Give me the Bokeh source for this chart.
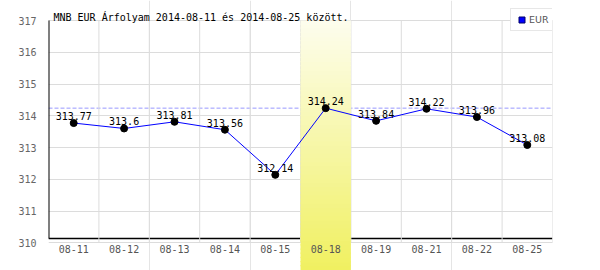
from bokeh.plotting import figure
from bokeh.models import Range1d, FixedTicker, Span, Label, Legend, LegendItem, ColumnDataSource
from bokeh.core.properties import value
from bokeh.embed import file_html
from bokeh.resources import INLINE

# ---- data ----
dates = ["08-11", "08-12", "08-13", "08-14", "08-15", "08-18", "08-19", "08-21", "08-22", "08-25"]
rates = [313.77, 313.6, 313.81, 313.56, 312.14, 314.24, 313.84, 314.22, 313.96, 313.08]
rate_labels = ["313.77", "313.6", "313.81", "313.56", "312.14", "314.24", "313.84", "314.22", "313.96", "313.08"]
y_ticks = [310, 311, 312, 313, 314, 315, 316, 317]
highlight_date = "08-18"
series_name = "EUR"
title_text = "MNB EUR Árfolyam 2014-08-11 és 2014-08-25 között."

# ---- layout constants ----
W, H = 600, 270
LEFT, RIGHT = 48, 48
GRID_TOP, GRID_BOTTOM = 20.0, 242.3
y_lo, y_hi = y_ticks[0], y_ticks[-1]
PX_PER_UNIT = (GRID_BOTTOM - GRID_TOP) / (y_hi - y_lo)
y_start = y_lo - (H - GRID_BOTTOM) / PX_PER_UNIT
y_end = y_hi + GRID_TOP / PX_PER_UNIT
axis_y = y_lo + 4.2 / PX_PER_UNIT

MONO = value("DejaVu Sans Mono")
n = len(dates)
xs = [i + 0.5 for i in range(n)]

p = figure(width=W, height=H, output_backend="svg", toolbar_location=None,
           x_range=Range1d(0, n), y_range=Range1d(y_start, y_end),
           x_axis_location=None, min_border_left=LEFT, min_border_right=RIGHT,
           min_border_top=0, min_border_bottom=0)
p.outline_line_color = None
p.background_fill_color = "white"
p.border_fill_color = "white"

# y axis
p.yaxis.ticker = FixedTicker(ticks=y_ticks)
p.yaxis.axis_line_color = None
p.yaxis.major_tick_line_color = None
p.yaxis.minor_tick_line_color = None
p.yaxis.major_label_standoff = 6
p.yaxis.major_label_text_font = "DejaVu Sans Mono"
p.yaxis.major_label_text_font_size = "10px"
p.yaxis.major_label_text_color = "#666666"
p.ygrid.ticker = FixedTicker(ticks=y_ticks)
p.ygrid.grid_line_color = "#dcdcdc"

# vertical grid lines at band boundaries
bounds = list(range(1, n + 1))
p.segment(x0=bounds, y0=[y_lo] * n, x1=bounds, y1=[y_hi] * n, line_color="#dcdcdc", line_width=1)

# max dashed line, axis lines (under the highlight band)
p.add_layout(Span(location=max(rates), dimension="width", line_color="#9999ff",
                  line_dash="4 2", line_width=1, level="underlay"))
p.add_layout(Span(location=axis_y, dimension="width", line_color="black",
                  line_width=1.5, level="underlay"))
p.segment(x0=[0], y0=[axis_y], x1=[0], y1=[y_hi], line_color="black", line_width=2)

# highlight band with vertical gradient
hi = dates.index(highlight_date)
N = 60
top_c = (253, 253, 238)
bot_c = (240, 240, 96)
lefts, rights, bots, tops, cols = [], [], [], [], []
step = (y_hi - y_start) / N
for k in range(N):
    t = (k + 0.5) / N
    c = tuple(int(round(bot_c[j] + (top_c[j] - bot_c[j]) * t)) for j in range(3))
    lefts.append(hi); rights.append(hi + 1)
    bots.append(y_start + k * step)
    tops.append(min(y_hi, y_start + (k + 1) * step + step * 0.3))
    cols.append("#%02x%02x%02x" % c)
p.quad(left=lefts, right=rights, bottom=bots, top=tops, fill_color=cols, line_color=None)

# data
src = ColumnDataSource(dict(x=xs, y=rates, lab=rate_labels))
# legend key renderer (square key, invisible on the plot itself)
key_r = p.scatter("x", "y", source=src, marker="square", size=0,
                  fill_color="blue", line_color="#000066")
line_r = p.line("x", "y", source=src, line_color="blue", line_width=1)
p.scatter("x", "y", source=src, size=7, fill_color="black", line_color="black")
p.text("x", "y", text="lab", source=src, text_font=MONO, text_font_size="10px",
       text_color="black", text_align="center", text_baseline="alphabetic", y_offset=-7)

# x tick labels
p.text(x=xs, y=[y_lo] * n, text=dates, text_font=MONO, text_font_size="10px",
       text_color="#555555", text_align="center", text_baseline="middle", y_offset=6)

# legend
legend = Legend(items=[LegendItem(label=series_name, renderers=[key_r])],
                location=(462, 239), orientation="vertical",
                glyph_width=15, glyph_height=15, label_height=15, label_width=20,
                label_standoff=0, padding=3, margin=0, spacing=0,
                label_text_font="DejaVu Sans", label_text_font_size="9.5px",
                label_text_color="#555555", label_text_baseline="middle",
                border_line_color="#d0d0d0", background_fill_color="white",
                background_fill_alpha=1)
p.add_layout(legend, "center")

# title
p.add_layout(Label(x=0, y=y_hi, x_offset=5, y_offset=3, text=title_text,
                   text_font="DejaVu Sans Mono", text_font_size="10px",
                   text_color="black", text_baseline="alphabetic"))

open("out.html", "w").write(file_html(p, INLINE))
